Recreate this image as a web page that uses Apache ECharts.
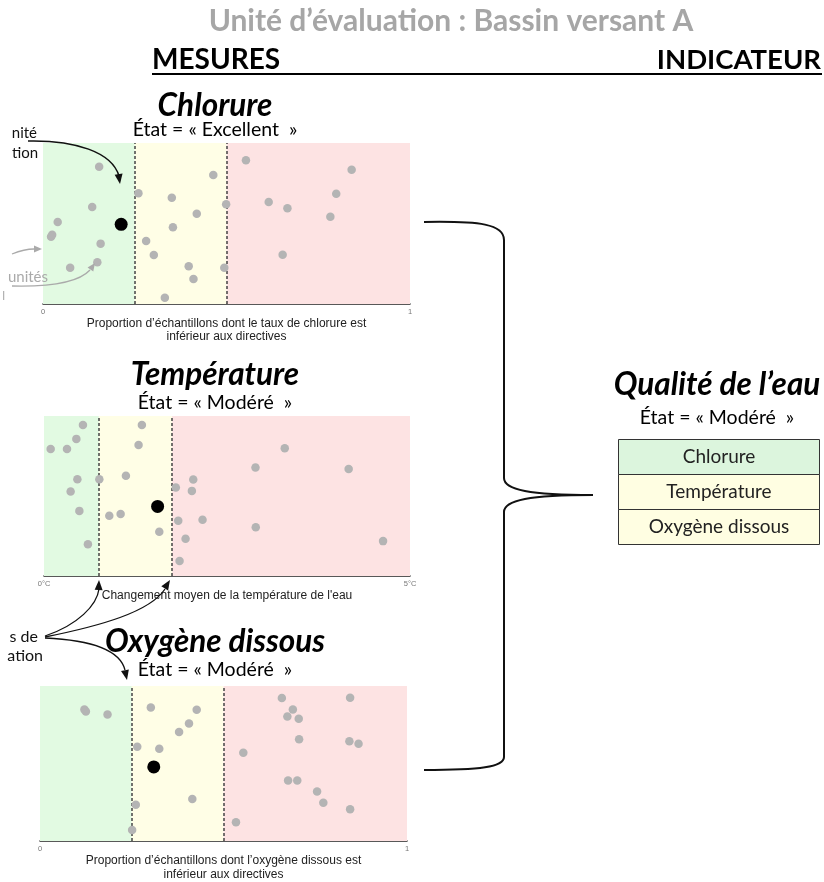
<!DOCTYPE html>
<html><head><meta charset="utf-8">
<script src="https://cdn.jsdelivr.net/npm/echarts@6/dist/echarts.min.js"></script>
<style>html,body{margin:0;padding:0;background:#fff}#c{width:824px;height:882px}</style>
</head><body><div id="c"></div>
<script>
// ---------- DATA ----------
const chartTitles = ['Chlorure', 'Température', 'Oxygène dissous'];
const chartStates = ['État = « Excellent  »', 'État = « Modéré  »', 'État = « Modéré  »'];
const axisNames = [
  'Proportion d\u2019échantillons dont le taux de chlorure est\ninférieur aux directives',
  'Changement moyen de la température de l\'eau',
  'Proportion d\u2019échantillons dont l\u2019oxygène dissous est\ninférieur aux directives'
];
const chlTicks = ['0', '1'];
const tempTicks = ['0°C', '5°C'];
const oxyTicks = ['0', '1'];

const chlThresholds = [0.25, 0.5];
const tempThresholds = [0.75, 1.75];
const oxyThresholds = [0.25, 0.5];

const chlSamples = [
  [0.153,0.853],[0.134,0.602],[0.040,0.509],[0.025,0.430],[0.022,0.418],[0.157,0.375],
  [0.074,0.225],[0.148,0.259],
  [0.260,0.688],[0.351,0.660],[0.419,0.561],[0.464,0.801],[0.499,0.619],[0.354,0.476],
  [0.281,0.391],[0.302,0.304],[0.397,0.234],[0.410,0.155],[0.332,0.039],[0.494,0.225],
  [0.553,0.893],[0.841,0.834],[0.799,0.685],[0.615,0.634],[0.666,0.594],[0.783,0.542],
  [0.653,0.306]
];
const chlMean = [[0.213,0.495]];

const tempSamples = [
  [0.532,0.944],[0.442,0.857],[0.091,0.794],[0.314,0.794],[0.456,0.605],[0.364,0.528],
  [0.483,0.407],[0.600,0.198],[0.756,0.605],[1.119,0.626],[1.337,0.944],[1.292,0.819],
  [0.892,0.376],[1.047,0.387],[1.575,0.276],[1.801,0.553],[2.039,0.603],[2.020,0.532],
  [1.834,0.345],[2.166,0.351],[1.934,0.233],[1.852,0.094],[3.289,0.799],[2.889,0.678],
  [4.162,0.669],[2.893,0.304],[4.632,0.218]
];
const tempMean = [[1.552,0.435]];

const oxySamples = [
  [0.121,0.849],[0.125,0.835],[0.184,0.816],[0.302,0.862],[0.427,0.847],[0.406,0.758],
  [0.379,0.704],[0.265,0.609],[0.325,0.596],[0.415,0.271],[0.261,0.234],[0.251,0.071],
  [0.659,0.922],[0.845,0.925],[0.689,0.849],[0.674,0.804],[0.705,0.789],[0.706,0.657],
  [0.843,0.644],[0.868,0.627],[0.554,0.570],[0.676,0.391],[0.701,0.391],[0.755,0.320],
  [0.772,0.248],[0.845,0.205],[0.534,0.122]
];
const oxyMean = [[0.310,0.478]];

const indicatorTitle = 'Qualité de l\u2019eau';
const indicatorState = 'État = « Modéré  »';
const indicatorRows = ['Chlorure', 'Température', 'Oxygène dissous'];
const indicatorRowColors = ['#dcf5dd', '#fffee2', '#fffee2'];

// ---------- STYLE ----------
const GREEN = '#e2fae2', YELLOW = '#fffee6', PINK = '#fde3e3';
const DOT = '#b4b4b4';
const FONT = 'Lato, "Open Sans", sans-serif';

const grids = [
  {left: 43, top: 143, width: 367, height: 161},
  {left: 44, top: 416, width: 366, height: 160},
  {left: 40, top: 686, width: 367, height: 161}
];
const nameGaps = [5, 5, 3];
const maxes = [1, 5, 1];
const tickSets = [chlTicks, tempTicks, oxyTicks];
const thresholds = [chlThresholds, tempThresholds, oxyThresholds];
const samples = [chlSamples, tempSamples, oxySamples];
const means = [chlMean, tempMean, oxyMean];

const xAxes = grids.map((g, i) => ({
  gridIndex: i, type: 'value', min: 0, max: maxes[i], interval: maxes[i],
  axisLine: {show: true, lineStyle: {color: '#222', width: 1.5}},
  axisTick: {show: false}, splitLine: {show: false},
  axisLabel: {fontSize: 7.5, color: '#777', margin: 4, fontFamily: 'Liberation Sans',
    formatter: v => v === 0 ? tickSets[i][0] : (v === maxes[i] ? tickSets[i][1] : '')},
  name: axisNames[i], nameLocation: 'middle', nameGap: nameGaps[i],
  nameTextStyle: {fontSize: 12, color: '#222', lineHeight: 13.5, fontFamily: 'Liberation Sans', verticalAlign: 'top'}
}));
const yAxes = grids.map((g, i) => ({gridIndex: i, type: 'value', min: 0, max: 1, show: false}));

const series = [];
grids.forEach((g, i) => {
  const t = thresholds[i];
  // background bands + threshold lines
  series.push({
    type: 'scatter', xAxisIndex: i, yAxisIndex: i, data: [], silent: true, z: 1,
    markArea: {silent: true, data: [
      [{xAxis: 0, itemStyle: {color: GREEN, opacity: 1}}, {xAxis: t[0]}],
      [{xAxis: t[0], itemStyle: {color: YELLOW, opacity: 1}}, {xAxis: t[1]}],
      [{xAxis: t[1], itemStyle: {color: PINK, opacity: 1}}, {xAxis: maxes[i]}]
    ]},
    markLine: {silent: true, symbol: 'none', label: {show: false},
      lineStyle: {color: '#444', type: [3, 2], width: 1.5},
      data: t.map(v => ({xAxis: v}))}
  });
  series.push({
    type: 'scatter', xAxisIndex: i, yAxisIndex: i, data: samples[i],
    symbolSize: 8.5, itemStyle: {color: DOT, opacity: 1}, silent: true, z: 5
  });
  series.push({
    type: 'scatter', xAxisIndex: i, yAxisIndex: i, data: means[i],
    symbolSize: 13, itemStyle: {color: '#000', opacity: 1}, silent: true, z: 6
  });
});

// ---------- GRAPHICS ----------
const gfx = [];
function txt(text, x, y, font, fill, align, vAlign) {
  gfx.push({type: 'text', x: x, y: y, silent: true, z: 100,
    style: {text: text, font: font, fill: fill || '#000', textAlign: align || 'center', textVerticalAlign: vAlign || 'middle'}});
}
function bez(p, color, w) {
  gfx.push({type: 'bezierCurve', silent: true, z: 100,
    shape: {x1: p[0], y1: p[1], cpx1: p[2], cpy1: p[3], cpx2: p[4], cpy2: p[5], x2: p[6], y2: p[7]},
    style: {stroke: color, lineWidth: w || 1.5, fill: null}});
}
function line(x1, y1, x2, y2, color, w) {
  gfx.push({type: 'line', silent: true, z: 100, shape: {x1, y1, x2, y2}, style: {stroke: color, lineWidth: w}});
}
function head(tx, ty, ang, color, len, half) {
  const a = ang * Math.PI / 180, L = len || 10, H = half || 4;
  const bx = tx - L * Math.cos(a), by = ty - L * Math.sin(a);
  const nx = -Math.sin(a), ny = Math.cos(a);
  gfx.push({type: 'polygon', silent: true, z: 100,
    shape: {points: [[tx, ty], [bx + nx * H, by + ny * H], [bx - nx * H, by - ny * H]]},
    style: {fill: color}});
}

// header
txt('Unité d\u2019évaluation : Bassin versant A', 451, 21, 'bold 30px ' + FONT, '#a6a6a6');
txt('MESURES', 152, 60, 'bold 28px ' + FONT, '#000', 'left');
txt('INDICATEUR', 821, 60, 'bold 27.5px ' + FONT, '#000', 'right');
line(152, 74, 822, 74, '#000', 2);

// chart titles
const titleY = [[106, 130], [375, 403], [642, 670]];
chartTitles.forEach((t, i) => {
  txt(t, 215, titleY[i][0], 'italic bold 31.5px ' + FONT, '#000');
  txt(chartStates[i], 215, titleY[i][1], '19.5px ' + FONT, '#000');
});

// left annotations
txt('nité', 37, 133, '15px ' + FONT, '#111', 'right');
txt('tion', 38, 153, '15px ' + FONT, '#111', 'right');
bez([28, 141, 75, 140, 112, 152, 119, 176], '#111', 1.5);
head(120, 184, 82, '#111');
txt('unités', 48, 277, '15px ' + FONT, '#aaa', 'right');
txt('l', 5, 296, '12px ' + FONT, '#aaa', 'right');
bez([12, 254, 22, 250, 28, 249, 34, 249], '#aaa', 1.3);
head(42, 249, 0, '#aaa', 8, 3.5);
bez([12, 286, 55, 287, 80, 281, 90, 270], '#aaa', 1.3);
head(95, 263, -55, '#aaa', 8, 3.5);

txt('s de', 38, 637, '16px ' + FONT, '#111', 'right');
txt('ation', 43, 656, '16px ' + FONT, '#111', 'right');
bez([45, 636, 78, 625, 97, 605, 99, 589], '#111', 1.3);
head(99, 580, -88, '#111');
bez([45, 637, 100, 626, 150, 612, 165, 589], '#111', 1.3);
head(170, 580, -58, '#111');
bez([45, 638, 90, 640, 120, 650, 125, 670], '#111', 1.3);
head(127, 680, 78, '#111');

// brace
const B = '#111';
bez([424, 222, 480, 221, 504, 224, 504, 240], B, 2);
line(504, 240, 504, 478, B, 2);
bez([504, 478, 504, 490, 530, 495, 593, 495], B, 2);
bez([593, 495, 530, 495, 504, 500, 504, 512], B, 2);
line(504, 512, 504, 757, B, 2);
bez([504, 757, 504, 767, 480, 770, 424, 770], B, 2);

// indicator
txt(indicatorTitle, 717, 385, 'italic bold 31.5px ' + FONT, '#000');
txt(indicatorState, 717, 418, '19.5px ' + FONT, '#000');
const rowTop = [439, 474, 509], rowH = 35;
indicatorRows.forEach((r, i) => {
  gfx.push({type: 'rect', silent: true, z: 90, shape: {x: 618.5, y: rowTop[i] + 0.5, width: 201, height: rowH},
    style: {fill: indicatorRowColors[i], stroke: '#333', lineWidth: 1}});
  txt(r, 719, rowTop[i] + rowH / 2 + 0.5, '19px ' + FONT, '#222');
});

const chart = echarts.init(document.getElementById('c'), null, {renderer: 'canvas'});
chart.setOption({
  animation: false,
  backgroundColor: '#fff',
  grid: grids.map(g => Object.assign({containLabel: false}, g)),
  xAxis: xAxes, yAxis: yAxes, series: series,
  graphic: {elements: gfx}
});
</script></body></html>
